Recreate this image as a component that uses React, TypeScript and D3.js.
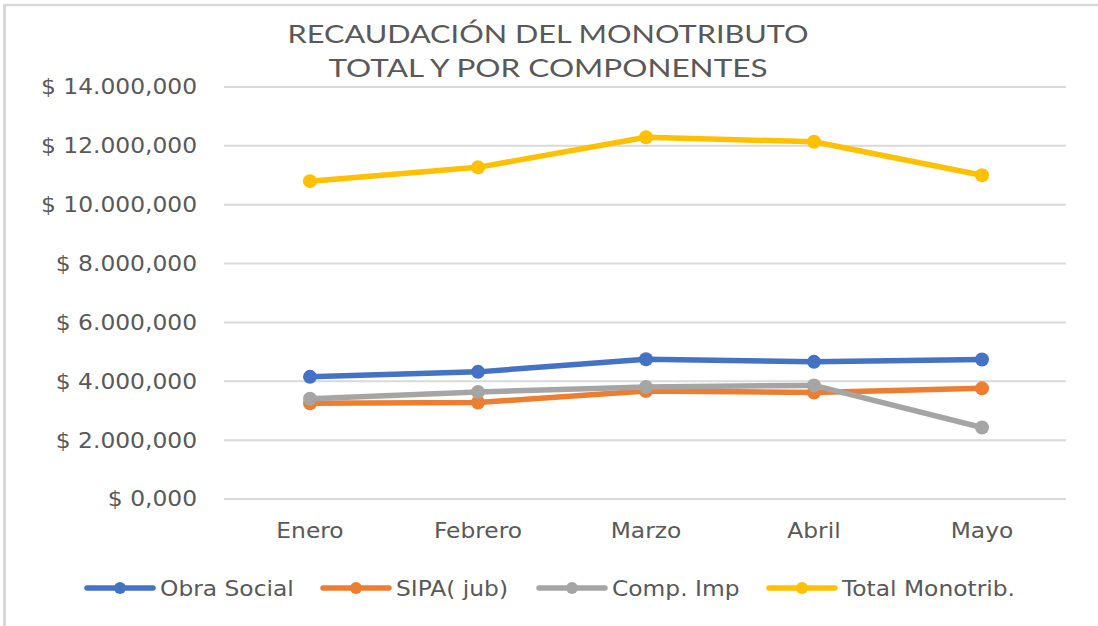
import React from "react";
import * as d3 from "d3";

const months = ["Enero", "Febrero", "Marzo", "Abril", "Mayo"];
const obraSocial = [4150000, 4320000, 4750000, 4660000, 4740000];
const sipa = [3250000, 3280000, 3670000, 3620000, 3760000];
const compImp = [3410000, 3640000, 3810000, 3860000, 2430000];
const totalMono = [10800000, 11270000, 12290000, 12140000, 11000000];
const yTicks = [0, 2000000, 4000000, 6000000, 8000000, 10000000, 12000000, 14000000];
const yTickLabels = ["$ 0,000", "$ 2.000,000", "$ 4.000,000", "$ 6.000,000", "$ 8.000,000", "$ 10.000,000", "$ 12.000,000", "$ 14.000,000"];
const seriesNames = ["Obra Social", "SIPA( jub)", "Comp. Imp", "Total Monotrib."];
const seriesColors = ["#4472C4", "#ED7D31", "#A5A5A5", "#FFC000"];
const titleLines = ["RECAUDACIÓN DEL MONOTRIBUTO", "TOTAL Y POR COMPONENTES"];

const W = 1098;
const H = 626;
const FONT = "'DejaVu Sans', Verdana, sans-serif";
const TXT = "#595959";
const SX = 1.14;

export default function App() {
  const series = [obraSocial, sipa, compImp, totalMono];
  const x = d3.scalePoint<string>().domain(months).range([226, 1066]).padding(0.5);
  const y = d3.scaleLinear().domain([0, 14000000]).range([499, 87]);
  const line = d3
    .line<number>()
    .x((_, i) => x(months[i]) as number)
    .y((d) => y(d));

  const legendX = [85, 321, 537, 767];
  const titleWidths = [521, 439];
  const titleBase = [42.5, 76.5];

  return (
    <svg width={W} height={H} style={{ position: "absolute", left: 0, top: 0, background: "#fff" }}>
      <rect x={0} y={0} width={W} height={H} fill="#fff" />
      <line x1={3} x2={W} y1={5} y2={5} stroke="#d9d9d9" strokeWidth={2.5} />
      <line x1={4.5} x2={4.5} y1={4} y2={H} stroke="#d9d9d9" strokeWidth={3} />

      {titleLines.map((t, i) => (
        <text
          key={t}
          x={548 - titleWidths[i] / 2}
          y={titleBase[i]}
          textLength={titleWidths[i]}
          lengthAdjust="spacingAndGlyphs"
          fontFamily="Lato, 'Open Sans', sans-serif"
          fontWeight={400}
          fontSize={24.5}
          fill={TXT}
        >
          {t}
        </text>
      ))}

      {yTicks.map((t, i) => (
        <g key={t}>
          <line x1={224} x2={1066} y1={y(t)} y2={y(t)} stroke="#d9d9d9" strokeWidth={2} />
          <text
            transform={`translate(197,${y(t)}) scale(${SX},1)`}
            dy="0.36em"
            textAnchor="end"
            fontFamily={FONT}
            fontSize={20.5}
            fill={TXT}
          >
            {yTickLabels[i]}
          </text>
        </g>
      ))}

      {months.map((m) => (
        <text
          key={m}
          transform={`translate(${x(m)},537.5) scale(${SX},1)`}
          textAnchor="middle"
          fontFamily={FONT}
          fontSize={20.5}
          fill={TXT}
        >
          {m}
        </text>
      ))}

      {series.map((s, si) => (
        <g key={si}>
          <path
            d={line(s) as string}
            fill="none"
            stroke={seriesColors[si]}
            strokeWidth={5.5}
            strokeLinejoin="round"
            strokeLinecap="round"
          />
          {s.map((v, i) => (
            <circle key={i} cx={x(months[i]) as number} cy={y(v)} r={7} fill={seriesColors[si]} />
          ))}
        </g>
      ))}

      {seriesNames.map((n, i) => (
        <g key={n}>
          <line
            x1={legendX[i] + 2}
            x2={legendX[i] + 68}
            y1={588}
            y2={588}
            stroke={seriesColors[i]}
            strokeWidth={5.5}
            strokeLinecap="round"
          />
          <circle cx={legendX[i] + 35} cy={588} r={6} fill={seriesColors[i]} />
          <text
            transform={`translate(${legendX[i] + 75},595.5) scale(${SX},1)`}
            fontFamily={FONT}
            fontSize={20.5}
            fill={TXT}
          >
            {n}
          </text>
        </g>
      ))}
    </svg>
  );
}
